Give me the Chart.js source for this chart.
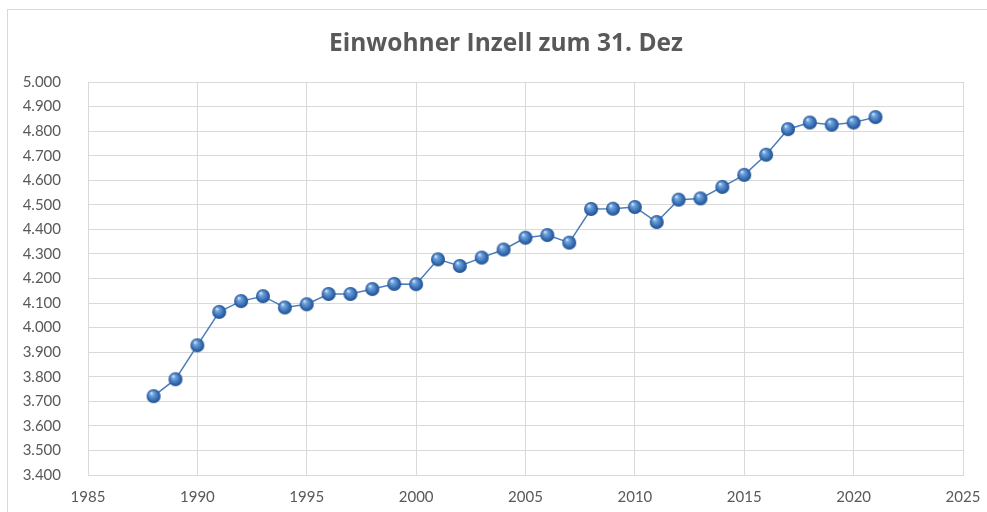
<!DOCTYPE html>
<html>
<head>
<meta charset="utf-8">
<script src="https://cdn.jsdelivr.net/npm/chart.js@4.4.0/dist/chart.umd.min.js"></script>
<style>
  body { margin: 0; background: #fff; }
  #wrap { position: relative; width: 987px; height: 512px; overflow: hidden; }
  #frame { position: absolute; left: 7px; top: 9px; width: 990px; height: 520px; border: 1px solid #d9d9d9; box-sizing: border-box; }
  #title { position: absolute; left: 306px; width: 400px; top: 27px; text-align: center;
           font: bold 24.5px/30px "Open Sans", sans-serif; color: #595959; white-space: nowrap; }
  canvas { position: absolute; left: 0; top: 0; }
</style>
</head>
<body>
<div id="wrap">
  <div id="frame"></div>
  <canvas id="line-chart" width="987" height="512"></canvas>
  <div id="title">Einwohner Inzell zum 31. Dez</div>
</div>
<script>
// Einwohner Inzell, Stand 31.12.
var years = [1988, 1989, 1990, 1991, 1992, 1993, 1994, 1995, 1996, 1997, 1998, 1999, 2000,
             2001, 2002, 2003, 2004, 2005, 2006, 2007, 2008, 2009, 2010, 2011, 2012, 2013,
             2014, 2015, 2016, 2017, 2018, 2019, 2020, 2021];
var einwohner = [3721, 3790, 3928, 4064, 4108, 4128, 4082, 4095, 4137, 4137, 4157, 4178, 4177,
                 4278, 4251, 4285, 4318, 4366, 4377, 4346, 4483, 4484, 4491, 4430, 4521, 4526,
                 4573, 4622, 4704, 4808, 4835, 4826, 4835, 4857];
var xTicks = {min: 1985, max: 2025, step: 5};
var yTicks = {min: 3400, max: 5000, step: 100};

function germanNumber(v) {
    var t = Math.floor(v / 1000);
    var r = String(Math.round(v % 1000)).padStart(3, '0');
    return t + '.' + r;
}

// little shaded ball for the markers
function makeBall(r) {
    var c = document.createElement('canvas');
    c.width = r * 2 + 2;
    c.height = r * 2 + 2;
    var ctx = c.getContext('2d');
    var cx = r + 1, cy = r + 1;
    var g = ctx.createRadialGradient(cx - r * 0.35, cy - r * 0.45, r * 0.05, cx, cy, r);
    g.addColorStop(0, '#d6e6f7');
    g.addColorStop(0.25, '#6fa3dd');
    g.addColorStop(0.75, '#3369b0');
    g.addColorStop(1, '#234f8a');
    ctx.fillStyle = g;
    ctx.beginPath();
    ctx.arc(cx, cy, r, 0, Math.PI * 2);
    ctx.fill();
    return c;
}

var points = [];
for (var i = 0; i < years.length; i++) {
    points.push({x: years[i], y: einwohner[i]});
}

var textColor = '#595959';
var gridColor = '#d9d9d9';
var ball = makeBall(7);

var lineChart = new Chart(document.getElementById('line-chart'), {
    type: 'scatter',
    data: {
        datasets: [{
            label: 'Einwohner',
            data: points,
            showLine: true,
            borderColor: '#4a7ebb',
            borderWidth: 1.5,
            pointStyle: ball,
            pointRadius: 7,
            pointHoverRadius: 7
        }]
    },
    options: {
        responsive: false,
        animation: false,
        layout: {padding: {left: 10, right: 24, top: 82, bottom: 0}},
        plugins: {
            legend: {display: false},
            tooltip: {enabled: false}
        },
        scales: {
            x: {
                type: 'linear',
                min: xTicks.min,
                max: xTicks.max,
                grid: {color: gridColor, drawTicks: false},
                border: {color: gridColor},
                ticks: {
                    stepSize: xTicks.step,
                    color: textColor,
                    padding: 13,
                    font: {family: 'Lato', size: 15},
                    callback: function(v) { return String(v); }
                },
                afterFit: function(s) {
                    s.height = 37;
                    s.paddingLeft = 0;
                    s.paddingRight = 0;
                }
            },
            y: {
                min: yTicks.min,
                max: yTicks.max,
                grid: {color: gridColor, drawTicks: false},
                border: {color: gridColor},
                ticks: {
                    stepSize: yTicks.step,
                    color: textColor,
                    padding: 27,
                    font: {family: 'Lato', size: 15},
                    callback: function(v) { return germanNumber(v); }
                },
                afterFit: function(s) { s.width = 78; }
            }
        }
    }
});
</script>
</body>
</html>
